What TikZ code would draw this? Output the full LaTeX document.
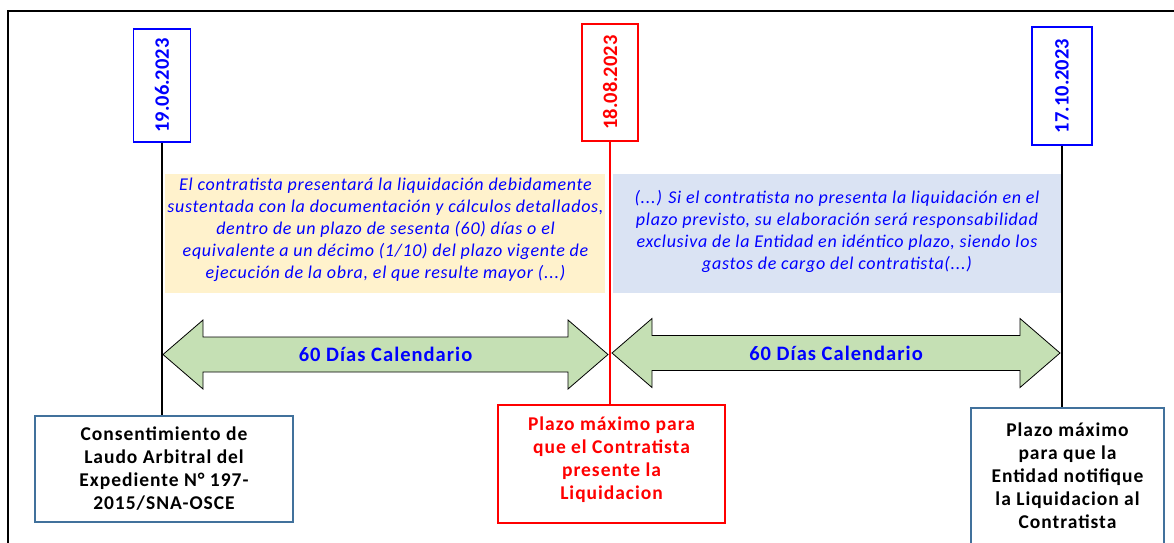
\documentclass[tikz,border=0pt]{standalone}
\usepackage{fontspec}
\setmainfont{Carlito}
\newfontfamily\spaced[LetterSpace=5]{Carlito}
\newfontfamily\spacedq[LetterSpace=4]{Carlito}
\usetikzlibrary{calc}
\definecolor{txtblue}{HTML}{0000FF}
\definecolor{txtred}{HTML}{FF0000}
\definecolor{yelfill}{HTML}{FFF2CC}
\definecolor{bluefill}{HTML}{DAE3F3}
\definecolor{arrfill}{HTML}{C5E0B4}
\definecolor{steel}{HTML}{41719C}
\tikzset{
  datebox/.style={draw, line width=1.6pt, fill=white, inner sep=0pt,
    font=\fontsize{20.5}{24}\selectfont\bfseries},
  textpanel/.style={inner sep=0pt, minimum height=119pt},
  quote/.style={align=center, text=txtblue, inner sep=0pt,
    font=\spacedq\fontsize{18}{22}\selectfont\itshape},
  arrowbody/.style={fill=arrfill, draw=black, line width=0.8pt, line join=miter},
  arrlabel/.style={text=txtblue, font=\spaced\fontsize{20.5}{22}\selectfont\bfseries, inner sep=0pt},
  infobox/.style={draw, line width=1.6pt, fill=white, inner sep=0pt},
  infotext/.style={align=center, inner sep=0pt, font=\spaced\fontsize{19.5}{23}\selectfont\bfseries},
}
\begin{document}
\begin{tikzpicture}[x=1pt,y=-1pt]
\useasboundingbox (0,0) rectangle (1174,542);
\clip (0,0) rectangle (1174,542);
% outer frame
\draw[line width=1.8pt] (8,11) rectangle (1190,580);

% text panels
\node[textpanel, fill=yelfill, minimum width=440pt] (p1) at (385,233.5) {};
\node[textpanel, fill=bluefill, minimum width=449pt] (p2) at (837.5,233.5) {};
\node[quote] (q1) at (385.5,230) {El contratista presentará la liquidación debidamente\\
sustentada con la documentación y cálculos detallados,\\
dentro de un plazo de sesenta (60) días o el\\
equivalente a un décimo (1/10) del plazo vigente de\\
ejecución de la obra, el que resulte mayor (...)};
\node[quote] (q2) at (837,231) {(...) Si el contratista no presenta la liquidación en el\\
plazo previsto, su elaboración será responsabilidad\\
exclusiva de la Entidad en idéntico plazo, siendo los\\
gastos de cargo del contratista(...)};

% date boxes
\node[datebox, draw=txtblue, text=txtblue, minimum width=57pt, minimum height=113pt] (d1) at (162,85.5) {\rotatebox{90}{19.06.2023}};
\node[datebox, draw=txtred, text=txtred, minimum width=56pt, minimum height=117pt] (d2) at (610,82.5) {\rotatebox{90}{18.08.2023}};
\node[datebox, draw=txtblue, text=txtblue, minimum width=60pt, minimum height=118pt] (d3) at (1062,86) {\rotatebox{90}{17.10.2023}};

% bottom boxes
\node[infobox, draw=steel, minimum width=258pt, minimum height=106pt] (b1) at (164,469) {};
\node[infotext] (t1) at (164,469) {Consentimiento de\\Laudo Arbitral del\\Expediente N° 197-\\2015/SNA-OSCE};
\node[infobox, draw=txtred, minimum width=227pt, minimum height=118pt] (b2) at (611.5,464) {};
\node[infotext, text=txtred] (t2) at (611.5,460) {Plazo máximo para\\que el Contratista\\presente la\\Liquidacion};
\node[infobox, draw=steel, minimum width=193pt, minimum height=170pt] (b3) at (1067.5,493) {};
\node[infotext] (t3) at (1067.5,476) {Plazo máximo\\para que la\\Entidad notifique\\la Liquidacion al\\Contratista};

% vertical connectors
\draw[line width=1.8pt] (d1.south) -- (d1.south |- b1.north);
\draw[line width=2.6pt, txtred] (d2.south) -- (d2.south |- b2.north);
\draw[line width=2.2pt] (d3.south) -- (d3.south |- b3.north);

% double arrows
\coordinate (a1l) at (163,354.5);
\coordinate (a1r) at (608,354.5);
\coordinate (a2l) at (612,353);
\coordinate (a2r) at (1060,353);
\draw[arrowbody] (a1l) -- ($(a1l)+(40,-34.5)$) -- ($(a1l)+(40,-17.5)$) -- ($(a1r)+(-40,-17.5)$) -- ($(a1r)+(-40,-34.5)$) -- (a1r)
  -- ($(a1r)+(-40,34.5)$) -- ($(a1r)+(-40,17.5)$) -- ($(a1l)+(40,17.5)$) -- ($(a1l)+(40,34.5)$) -- cycle;
\draw[arrowbody] (a2l) -- ($(a2l)+(40,-34.5)$) -- ($(a2l)+(40,-17.5)$) -- ($(a2r)+(-40,-17.5)$) -- ($(a2r)+(-40,-34.5)$) -- (a2r)
  -- ($(a2r)+(-40,34.5)$) -- ($(a2r)+(-40,17.5)$) -- ($(a2l)+(40,17.5)$) -- ($(a2l)+(40,34.5)$) -- cycle;
\node[arrlabel] (l1) at ($(a1l)!0.5!(a1r)$) {60 Días Calendario};
\node[arrlabel] (l2) at ($(a2l)!0.5!(a2r)$) {60 Días Calendario};
\end{tikzpicture}
\end{document}
